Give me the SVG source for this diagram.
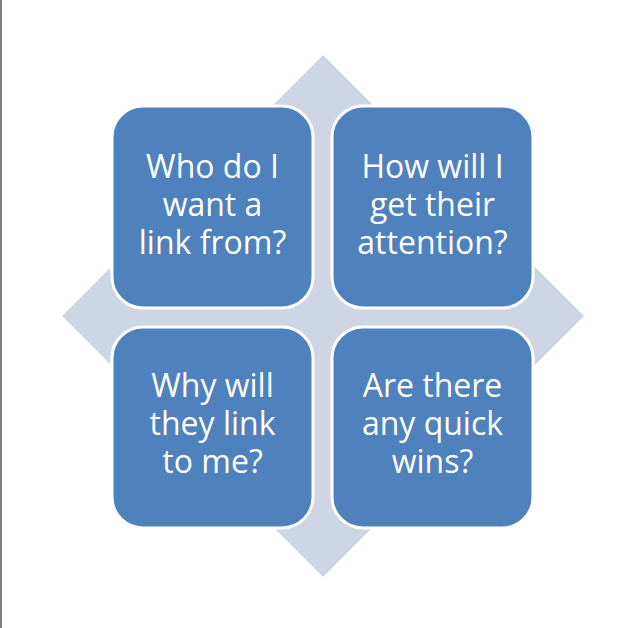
<svg xmlns="http://www.w3.org/2000/svg" width="640" height="628" viewBox="0 0 640 628">
  <style>
    .box { fill: #4F81BD; stroke: #FFFFFF; stroke-width: 3; }
    .lbl { fill: #FFFFFF; font-family: "Open Sans", "Noto Sans", "DejaVu Sans", sans-serif; font-size: 32px; text-anchor: middle; }
  </style>
  <rect x="0" y="0" width="640" height="628" fill="#FFFFFF"/>
  <rect x="0" y="0" width="2" height="628" fill="#808080"/>
  <g id="background">
    <polygon points="323,55 584,316 323,577 62,316" fill="#CED6E6"/>
  </g>
  <g id="connectors"></g>
  <g id="node-top-left">
    <rect class="box" x="112" y="106" width="201" height="202" rx="31" ry="31"/>
    <text class="lbl" x="212.5" y="178">Who do I</text>
    <text class="lbl" x="212.5" y="216">want a</text>
    <text class="lbl" x="212.5" y="254">link from?</text>
  </g>
  <g id="node-top-right">
    <rect class="box" x="332" y="106" width="201" height="202" rx="31" ry="31"/>
    <text class="lbl" x="432.5" y="178">How will I</text>
    <text class="lbl" x="432.5" y="216">get their</text>
    <text class="lbl" x="432.5" y="254">attention?</text>
  </g>
  <g id="node-bottom-left">
    <rect class="box" x="112" y="327" width="201" height="201" rx="31" ry="31"/>
    <text class="lbl" x="212.5" y="397">Why will</text>
    <text class="lbl" x="212.5" y="435">they link</text>
    <text class="lbl" x="212.5" y="473">to me?</text>
  </g>
  <g id="node-bottom-right">
    <rect class="box" x="332" y="327" width="201" height="201" rx="31" ry="31"/>
    <text class="lbl" x="432.5" y="397">Are there</text>
    <text class="lbl" x="432.5" y="435">any quick</text>
    <text class="lbl" x="432.5" y="473">wins?</text>
  </g>
</svg>
